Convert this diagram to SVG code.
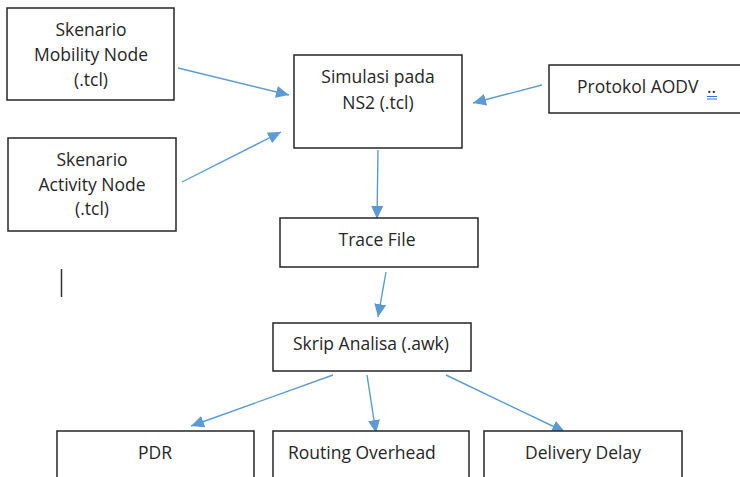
<svg xmlns="http://www.w3.org/2000/svg" width="740" height="477" viewBox="0 0 740 477">
  <defs>
    <style>
      .box { fill: #ffffff; stroke: #262626; stroke-width: 1.5; }
      .lbl { font-family: "Open Sans", "Liberation Sans", Arial, sans-serif; font-size: 17.5px; fill: #262626; }
      .mid { text-anchor: middle; }
      .edge { fill: none; stroke: #5b9bd5; stroke-width: 1.4; marker-end: url(#head); }
    </style>
    <marker id="head" markerUnits="userSpaceOnUse" markerWidth="14" markerHeight="12" refX="13" refY="6" orient="auto">
      <path d="M0,0 L13,6 L0,12 Z" fill="#5b9bd5"/>
    </marker>
  </defs>
  <rect width="740" height="477" fill="#ffffff"/>

  <g id="connectors">
    <path class="edge" d="M178,68 L289,95"/>
    <path class="edge" d="M182,182 L281,132"/>
    <path class="edge" d="M542,85 L473,103"/>
    <path class="edge" d="M378,150 L377,219"/>
    <path class="edge" d="M386,272 L378,317"/>
    <path class="edge" d="M333,375 L191,426"/>
    <path class="edge" d="M367,375 L376,433"/>
    <path class="edge" d="M446,375 L565,432"/>
  </g>

  <g id="mobility">
    <rect class="box" x="7" y="8" width="167" height="92"/>
    <text class="lbl mid" x="91" y="36">Skenario</text>
    <text class="lbl mid" x="91" y="61">Mobility Node</text>
    <text class="lbl mid" x="91" y="86">(.tcl)</text>
  </g>

  <g id="activity">
    <rect class="box" x="8" y="138" width="168" height="93"/>
    <text class="lbl mid" x="92" y="166">Skenario</text>
    <text class="lbl mid" x="92" y="191">Activity Node</text>
    <text class="lbl mid" x="92" y="215">(.tcl)</text>
  </g>

  <g id="simulasi">
    <rect class="box" x="294" y="55" width="168" height="93"/>
    <text class="lbl mid" x="378" y="83">Simulasi pada</text>
    <text class="lbl mid" x="378" y="109">NS2 (.tcl)</text>
  </g>

  <g id="protokol">
    <rect class="box" x="549" y="65" width="192" height="48"/>
    <text class="lbl" x="577" y="93">Protokol AODV</text>
    <text class="lbl" x="707" y="93">..</text>
    <line x1="707" y1="96.5" x2="717" y2="96.5" stroke="#2e75d6" stroke-width="1"/>
    <line x1="707" y1="99" x2="717" y2="99" stroke="#2e75d6" stroke-width="1"/>
  </g>

  <g id="trace">
    <rect class="box" x="280" y="218" width="198" height="49"/>
    <text class="lbl mid" x="377" y="246">Trace File</text>
  </g>

  <g id="skrip">
    <rect class="box" x="273" y="323" width="198" height="48"/>
    <text class="lbl mid" x="371" y="350">Skrip Analisa (.awk)</text>
  </g>

  <g id="pdr">
    <rect class="box" x="57" y="431" width="197" height="60"/>
    <text class="lbl mid" x="155" y="459">PDR</text>
  </g>

  <g id="routing">
    <rect class="box" x="273" y="431" width="196" height="60"/>
    <text class="lbl" x="288" y="459">Routing Overhead</text>
  </g>

  <g id="delivery">
    <rect class="box" x="484" y="431" width="198" height="60"/>
    <text class="lbl mid" x="583" y="459">Delivery Delay</text>
  </g>

  <!-- text cursor -->
  <line x1="61.5" y1="269" x2="61.5" y2="297" stroke="#333333" stroke-width="1.5"/>
</svg>
